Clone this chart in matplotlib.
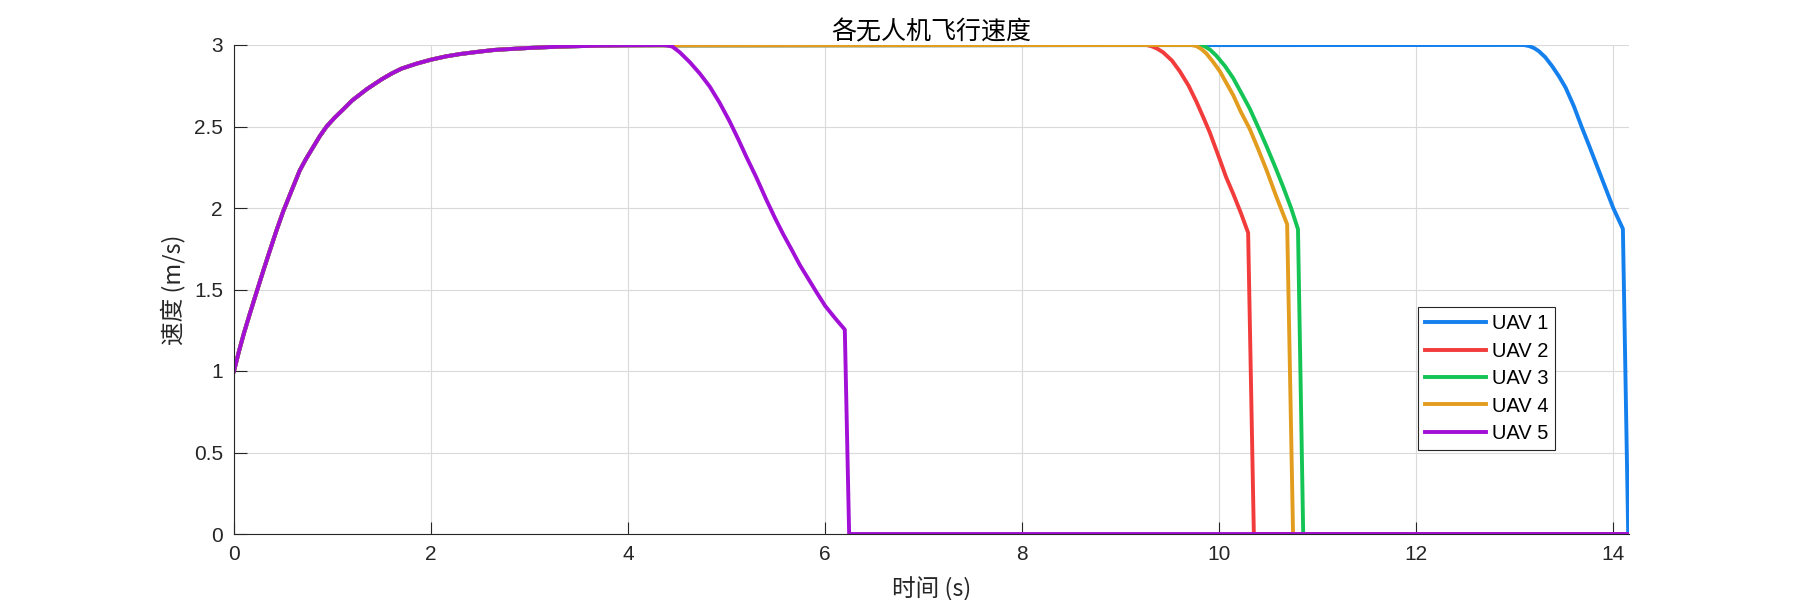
import matplotlib
matplotlib.use('Agg')
import matplotlib.pyplot as plt

# common acceleration phase (all UAVs start at 1 m/s and reach 3 m/s)
rise_t = [0.0, 0.05, 0.1, 0.16, 0.227, 0.3, 0.37, 0.43, 0.5, 0.58, 0.667, 0.73, 0.8,
          0.87, 0.94, 1.02, 1.1, 1.2, 1.35, 1.5, 1.6, 1.7, 1.85, 2.0, 2.15, 2.3,
          2.5, 2.65, 2.85, 3.0, 3.3, 3.7, 4.0]
rise_v = [1.0, 1.12, 1.23, 1.35, 1.48, 1.62, 1.75, 1.86, 1.98, 2.10, 2.23, 2.30, 2.37,
          2.44, 2.50, 2.553, 2.60, 2.66, 2.73, 2.79, 2.825, 2.855, 2.885, 2.91, 2.93, 2.945,
          2.96, 2.97, 2.977, 2.982, 2.99, 2.996, 2.998]

# deceleration / stop phase of each UAV
uav1_t = [13.093, 13.15, 13.2, 13.245, 13.31, 13.38, 13.45, 13.516, 13.6, 13.678,
          13.76, 13.84, 13.92, 14.0, 14.098, 14.152, 14.16]
uav1_v = [3.0, 2.993, 2.98, 2.962, 2.925, 2.87, 2.807, 2.739, 2.625, 2.5,
          2.375, 2.25, 2.125, 2.0, 1.872, 0.0, 0.0]

uav2_t = [9.262, 9.31, 9.37, 9.431, 9.52, 9.6, 9.69, 9.77, 9.84, 9.905, 10.007,
          10.07, 10.142, 10.22, 10.294, 10.352, 14.16]
uav2_v = [3.0, 2.993, 2.978, 2.955, 2.905, 2.839, 2.75, 2.651, 2.555, 2.463, 2.296,
          2.19, 2.088, 1.97, 1.848, 0.0, 0.0]

uav3_t = [9.8, 9.85, 9.91, 9.97, 10.06, 10.142, 10.23, 10.311, 10.4, 10.48, 10.57,
          10.65, 10.73, 10.8, 10.853, 14.16]
uav3_v = [3.0, 2.993, 2.97, 2.935, 2.87, 2.797, 2.70, 2.609, 2.49, 2.38, 2.25,
          2.129, 2.0, 1.87, 0.0, 0.0]

uav4_t = [9.718, 9.77, 9.82, 9.87, 9.94, 10.007, 10.07, 10.142, 10.22, 10.311, 10.39,
          10.48, 10.58, 10.69, 10.75, 14.16]
uav4_v = [3.0, 2.993, 2.975, 2.948, 2.895, 2.839, 2.77, 2.693, 2.59, 2.484, 2.37,
          2.234, 2.07, 1.90, 0.0, 0.0]

uav5_t = [4.355, 4.40, 4.45, 4.525, 4.626, 4.728, 4.829, 4.93, 5.032, 5.12, 5.2,
          5.30, 5.404, 5.49, 5.574, 5.66, 5.743, 5.83, 5.912, 6.0, 6.1,
          6.2, 6.244, 14.16]
uav5_v = [3.0, 2.997, 2.99, 2.955, 2.895, 2.825, 2.745, 2.645, 2.53, 2.42, 2.315,
          2.19, 2.05, 1.94, 1.84, 1.745, 1.651, 1.565, 1.484, 1.40, 1.325,
          1.254, 0.0, 0.0]

labels = ['UAV 1', 'UAV 2', 'UAV 3', 'UAV 4', 'UAV 5']
colors = ['#1380EE', '#F23B3B', '#14C455', '#E39D1E', '#A20FD6']
xticks = [0, 2, 4, 6, 8, 10, 12, 14]
yticks = [0, 0.5, 1, 1.5, 2, 2.5, 3]
ytick_labels = ['0', '0.5', '1', '1.5', '2', '2.5', '3']

cjk = ['Noto Sans CJK SC', 'DejaVu Sans']
plt.rcParams['font.family'] = ['Liberation Sans', 'DejaVu Sans']

fig = plt.figure(figsize=(18, 6), dpi=100)
ax = fig.add_axes([0.13, 0.11, 0.775, 0.815])

segments = [(uav1_t, uav1_v), (uav2_t, uav2_v), (uav3_t, uav3_v),
            (uav4_t, uav4_v), (uav5_t, uav5_v)]
for (t, v), lab, c in zip(segments, labels, colors):
    ax.plot(rise_t + t, rise_v + v, color=c, lw=2.8, label=lab)

ax.set_xlim(0, 14.16)
ax.set_ylim(0, 3)
ax.set_xticks(xticks)
ax.set_yticks(yticks)
ax.set_yticklabels(ytick_labels)
ax.tick_params(direction='in', length=9, width=0.8, labelsize=15,
               colors='#262626', pad=8)
ax.grid(True, color='#DADADA', lw=0.8)
ax.set_axisbelow(True)
for side in ['top', 'right']:
    ax.spines[side].set_visible(False)
for side in ['left', 'bottom']:
    ax.spines[side].set_color('#262626')
    ax.spines[side].set_linewidth(0.8)

ax.set_title('各无人机飞行速度', family=cjk, fontsize=18, pad=2)
ax.set_xlabel('时间 (s)', family=cjk, fontsize=17, color='#262626', labelpad=9)
ax.set_ylabel('速度 (m/s)', family=cjk, fontsize=17, color='#262626', labelpad=6)

leg = ax.legend(loc='upper left', bbox_to_anchor=(0.849, 0.464), borderaxespad=0,
                fontsize=14.5, handlelength=3.0, handletextpad=0.3, labelspacing=0.42,
                borderpad=0.35, fancybox=False, framealpha=1, edgecolor='#262626')
leg.get_frame().set_linewidth(0.8)

plt.savefig('out.png', dpi=100)
